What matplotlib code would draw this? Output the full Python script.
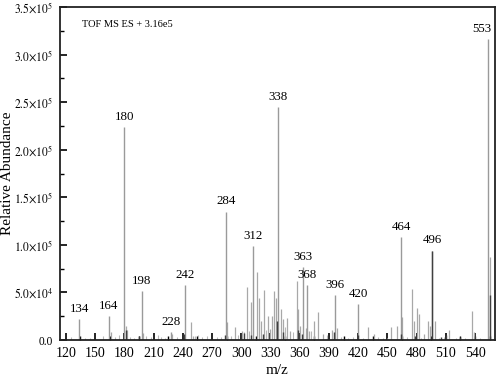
import matplotlib
matplotlib.use("Agg")
import matplotlib.pyplot as plt
from matplotlib.ticker import MultipleLocator, FuncFormatter

plt.rcParams['font.family'] = ['Liberation Serif', 'DejaVu Serif']
plt.rcParams['mathtext.fontset'] = 'stix'

# labeled peaks (m/z, intensity)
label_mz = [134, 164, 180, 198, 228, 242, 284, 312, 338, 363, 368, 396, 420, 464, 496, 553]
label_int = [22000, 25000, 224000, 51500, 8000, 58000, 135000, 99000, 245000, 77000, 58000, 47000, 38000, 108000, 94000, 316000]

# unlabeled light-grey peaks
peak_mz = [166, 182, 183, 199, 229, 248, 250, 285, 294, 301, 306, 310, 316, 318, 320, 323,
           327, 330, 332, 334, 336, 341, 343, 347, 350, 357, 358, 360, 366, 370, 375, 379,
           384, 393, 398, 430, 436, 454, 460, 465, 475, 477, 480, 482, 488, 492, 494, 499,
           513, 537, 539, 555]
peak_int = [8000, 15000, 10000, 7000, 6000, 18500, 4000, 19000, 14000, 9000, 56000, 40000, 72000, 44000, 20000, 53000,
            25000, 12000, 25000, 52000, 44000, 33000, 22000, 23000, 9000, 62000, 33000, 15000, 13000, 9000, 20000, 29000,
            6000, 10000, 13000, 14000, 6000, 14000, 15000, 24000, 54000, 20000, 34000, 27000, 6000, 20000, 15000, 20000,
            11000, 30000, 8000, 87500]

# small grey noise peaks
noise_mz = [125, 140, 145, 158, 170, 175, 186, 190, 202, 207, 215, 218, 222, 234, 253, 256, 260, 265, 275, 279,
            289, 297, 303, 308, 325, 345, 353, 372, 388, 402, 410, 415, 425, 440, 446, 450, 470, 485, 503, 508,
            520, 530, 545]
noise_int = [3000, 2500, 2000, 4000, 3500, 5000, 3000, 2500, 4500, 3000, 5000, 3000, 2500, 3000, 4000, 5000, 3500, 4000, 3000, 3500,
             4000, 5000, 8000, 9000, 10000, 14000, 8000, 9000, 5000, 3000, 2500, 3000, 2000, 3500, 2000, 2500, 3000, 2500, 2000, 3000,
             2000, 2500, 2000]

# dark peaks
dark_mz = [182, 195, 241, 283, 303, 310, 322, 337, 343, 358, 362, 395, 420, 464, 478, 496, 505, 510, 525, 540, 555]
dark_int = [10000, 4000, 6000, 5000, 7000, 5000, 6000, 20000, 8000, 10000, 6000, 8000, 5000, 6000, 4000, 94000, 3000, 5000, 3000, 4000, 47000]

xticks = [120, 150, 180, 210, 240, 270, 300, 330, 360, 390, 420, 450, 480, 510, 540]

fig = plt.figure(figsize=(4.98, 3.78), dpi=100)
ax = fig.add_axes([0.1205, 0.1005, 0.8735, 0.881])

light = '#a8a8a8'
ax.vlines(noise_mz, 0, noise_int, color='#b8b8b8', lw=0.8)
ax.vlines(peak_mz, 0, peak_int, color=light, lw=0.9)
ax.vlines(label_mz, 0, label_int, color='#9a9a9a', lw=1.0)
ax.vlines(dark_mz, 0, dark_int, color='#404040', lw=1.0)

offsets = {553: -4}
for m, v in zip(label_mz, label_int):
    ax.annotate(str(m), (m, v), xytext=(offsets.get(m, 0), 3), textcoords='offset points',
                ha='center', va='bottom', fontsize=9.3)

ax.text(0.05, 0.96, 'TOF MS ES + 3.16e5', transform=ax.transAxes, fontsize=7.5, va='top', ha='left')

ax.set_xlim(114, 560.5)
ax.set_ylim(0, 350000)
ax.set_xticks(xticks)
ax.xaxis.set_minor_locator(MultipleLocator(15))
ax.yaxis.set_major_locator(MultipleLocator(50000))
ax.yaxis.set_minor_locator(MultipleLocator(25000))


def fmt(v, pos):
    if v == 0:
        return '0.0'
    e = 5 if v >= 100000 else 4
    return r'$%.1f{\times}10^{%d}$' % (v / 10 ** e, e)


ax.yaxis.set_major_formatter(FuncFormatter(fmt))
ax.tick_params(axis='both', which='both', direction='in', top=False, right=False)
ax.tick_params(axis='both', which='major', length=5, width=1.2, labelsize=10)
ax.tick_params(axis='x', which='major', pad=5)
ax.tick_params(axis='y', which='major', labelsize=8.3, pad=5)
ax.tick_params(axis='both', which='minor', length=3, width=1.0)
for s in ax.spines.values():
    s.set_linewidth(1.3)
    s.set_color('#222222')

ax.set_xlabel('m/z', fontsize=11, labelpad=3)
ax.set_ylabel('Relative Abundance', fontsize=11)
ax.yaxis.set_label_coords(-0.106, 0.5)

fig.savefig('out.png', dpi=100)
